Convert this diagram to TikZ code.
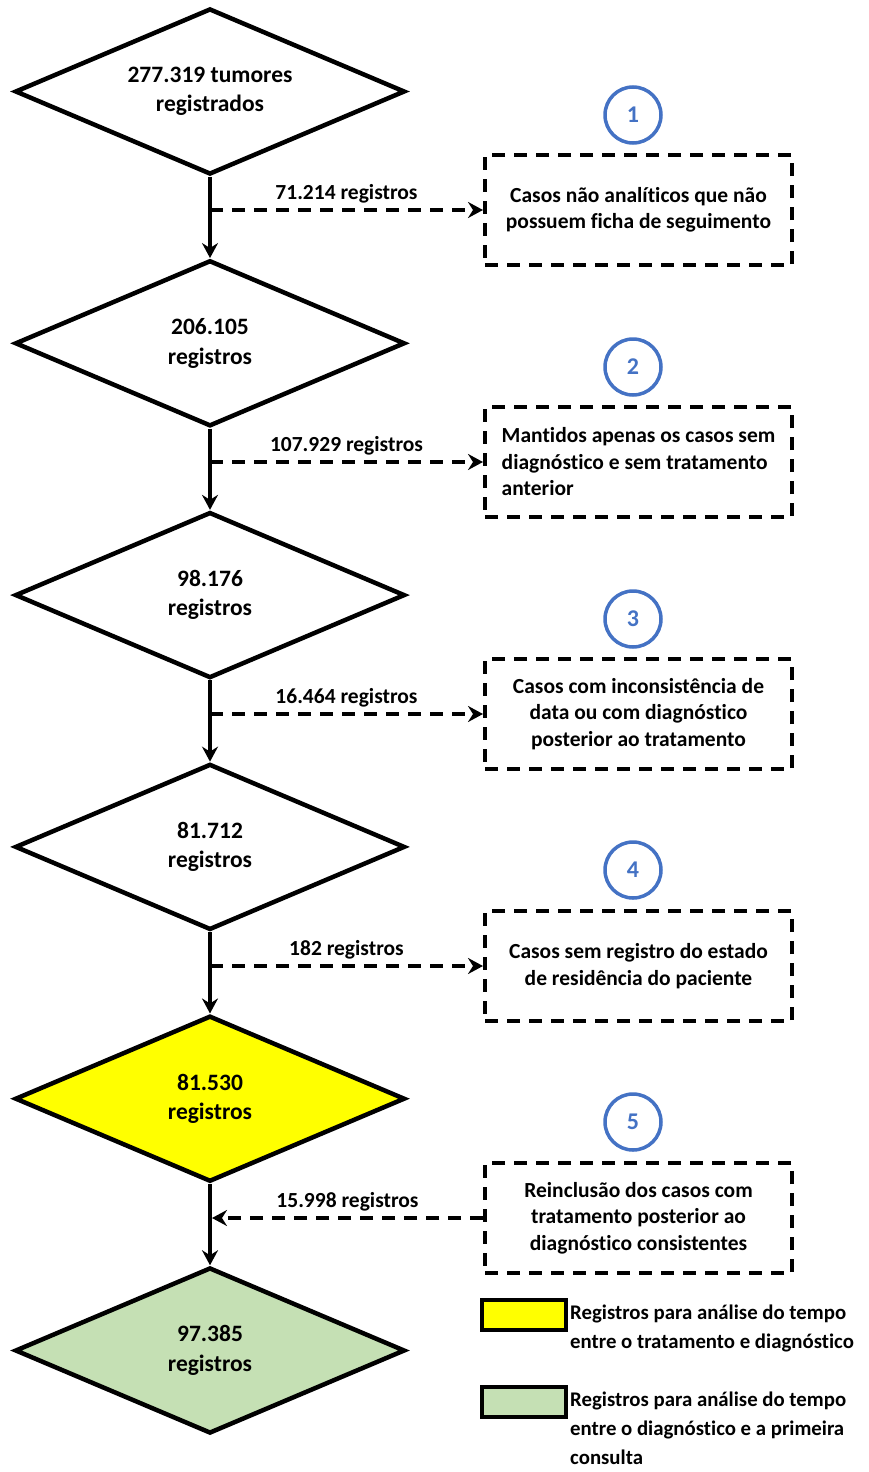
\documentclass[tikz,border=0pt]{standalone}
\usepackage{fontspec}
\setmainfont{Carlito}[Ligatures=NoCommon]
\usetikzlibrary{shapes.geometric,arrows.meta}
\definecolor{numblue}{HTML}{4472C4}
\definecolor{legyellow}{HTML}{FFFF00}
\definecolor{leggreen}{HTML}{C5E0B4}

\begin{document}
\begin{tikzpicture}[x=1pt, y=-1pt,
    every node/.style={font=\fontsize{21.5}{29.5}\selectfont\bfseries},
    dnode/.style={diamond, aspect=2.35, draw, line width=4.5pt, minimum width=390pt, minimum height=166pt, inner sep=0pt, align=center,
        font=\fontsize{23.5}{29.5}\selectfont\bfseries},
    dbox/.style={draw, line width=4pt, dash pattern=on 13pt off 9pt, minimum width=307pt, minimum height=110pt, inner sep=0pt,
        font=\fontsize{21.5}{26.5}\selectfont\bfseries},
    numcirc/.style={circle, draw=numblue, text=numblue, line width=3.5pt, minimum size=56pt, inner sep=0pt,
        font=\fontsize{24}{28}\selectfont\bfseries},
    flow/.style={line width=4pt, -{Stealth[length=15pt,width=16pt,inset=5pt]}},
    dashflow/.style={flow, dash pattern=on 13pt off 9pt},
    legbox/.style={draw, line width=4pt, minimum width=84pt, minimum height=30pt, inner sep=0pt, anchor=north west},
    legtext/.style={anchor=north west, align=left, inner sep=0pt, font=\fontsize{20.8}{29}\selectfont\bfseries}]
  \useasboundingbox (0,0) rectangle (868,1472);

  % main column
  \node[dnode] (d1) at (210,91.5) {277.319 tumores\\registrados};
  \node[dnode] (d2) at (210,343.3) {206.105\\registros};
  \node[dnode] (d3) at (210,595.1) {98.176\\registros};
  \node[dnode] (d4) at (210,846.9) {81.712\\registros};
  \node[dnode, fill=legyellow] (d5) at (210,1098.7) {81.530\\registros};
  \node[dnode, fill=leggreen] (d6) at (210,1350.5) {97.385\\registros};

  % side boxes
  \node[dbox, align=center] (b1) at (638.5,210) {Casos não analíticos que não\\possuem ficha de seguimento};
  \node[dbox, align=left] (b2) at (638.5,462) {Mantidos apenas os casos sem\\diagnóstico e sem tratamento\\anterior};
  \node[dbox, align=center] (b3) at (638.5,714) {Casos com inconsistência de\\data ou com diagnóstico\\posterior ao tratamento};
  \node[dbox, align=center] (b4) at (638.5,966) {Casos sem registro do estado\\de residência do paciente};
  \node[dbox, align=center] (b5) at (638.5,1218) {Reinclusão dos casos com\\tratamento posterior ao\\diagnóstico consistentes};

  \node[numcirc] (c1) at (633,115) {1};
  \node[numcirc] (c2) at (633,367) {2};
  \node[numcirc] (c3) at (633,619) {3};
  \node[numcirc] (c4) at (633,870) {4};
  \node[numcirc] (c5) at (633,1122) {5};

  \draw[flow] (d1.south) -- (d2.north);
  \draw[flow] (d2.south) -- (d3.north);
  \draw[flow] (d3.south) -- (d4.north);
  \draw[flow] (d4.south) -- (d5.north);
  \draw[flow] (d5.south) -- (d6.north);

  \coordinate (s1) at (d1.south |- b1.west);
  \coordinate (s2) at (d2.south |- b2.west);
  \coordinate (s3) at (d3.south |- b3.west);
  \coordinate (s4) at (d4.south |- b4.west);
  \coordinate (s5) at (d5.south |- b5.west);

  \draw[dashflow] (s1) -- node[above=2pt] (l1) {71.214 registros} (b1.west);
  \draw[dashflow] (s2) -- node[above=2pt] (l2) {107.929 registros} (b2.west);
  \draw[dashflow] (s3) -- node[above=2pt] (l3) {16.464 registros} (b3.west);
  \draw[dashflow] (s4) -- node[above=2pt] (l4) {182 registros} (b4.west);
  \draw[dashflow] (b5.west) -- node[above=2pt] (l5) {15.998 registros} ([xshift=2pt]s5);

  % legend
  \node[legbox, fill=legyellow] (ky) at (480,1298) {};
  \node[legbox, fill=leggreen] (kg) at (480,1385) {};
  \node[legtext] (ty) at (570,1305) {Registros para análise do tempo\\entre o tratamento e diagnóstico};
  \node[legtext] (tg) at (570,1392) {Registros para análise do tempo\\entre o diagnóstico e a primeira\\consulta};
\end{tikzpicture}
\end{document}
